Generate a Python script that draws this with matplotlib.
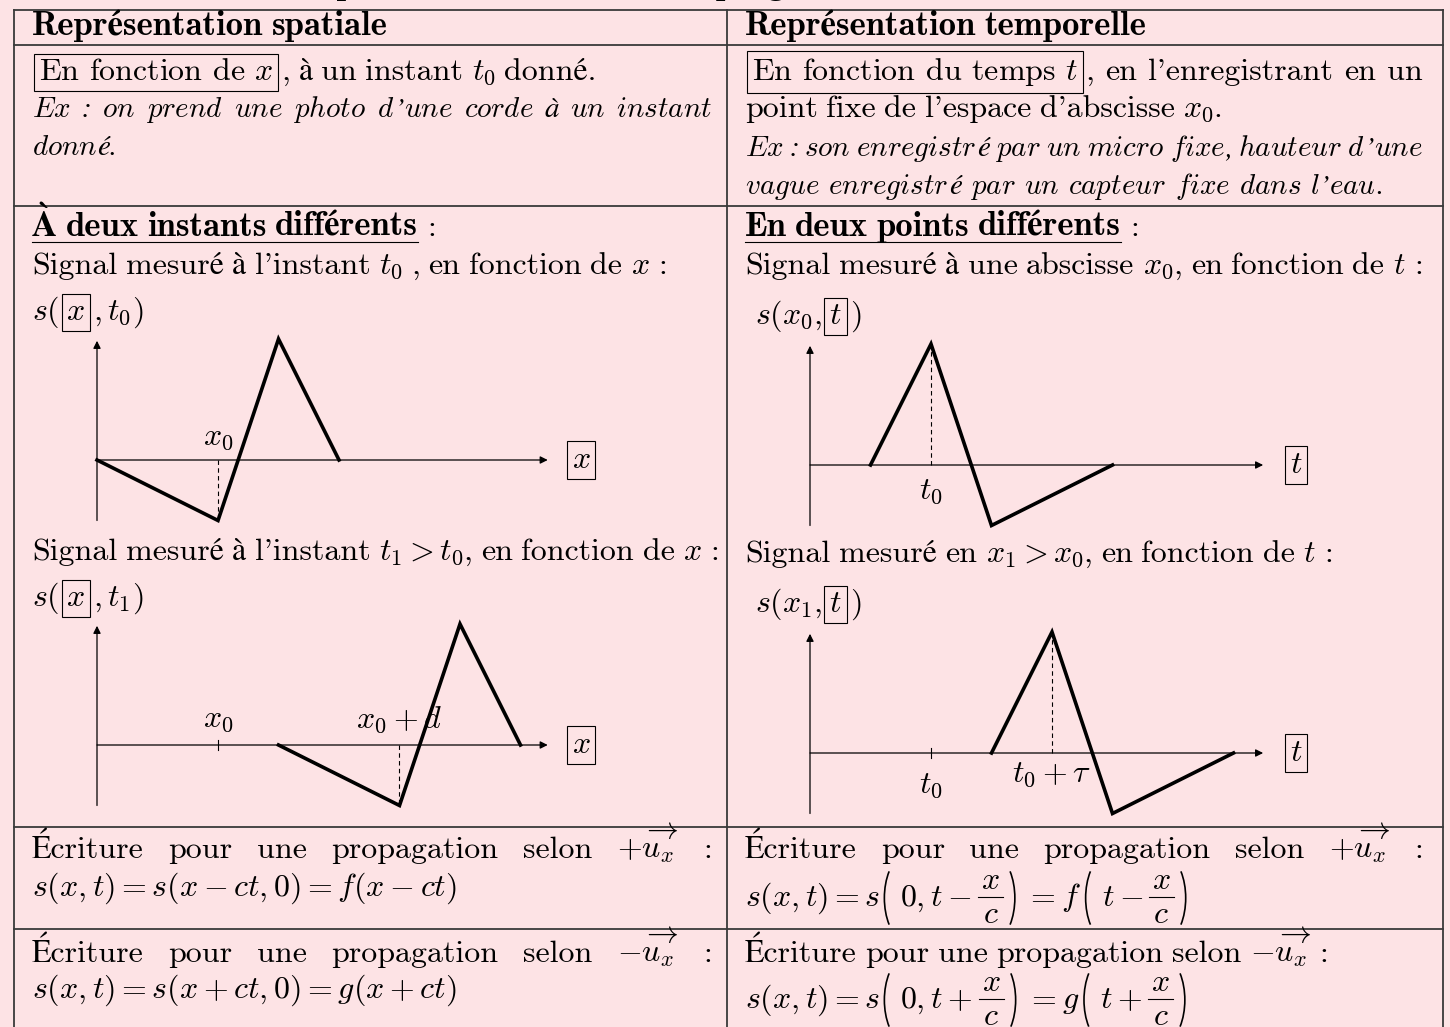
import re
from math import sin, cos, radians
import matplotlib
matplotlib.use('Agg')
import matplotlib.pyplot as plt
from matplotlib.patches import Arc

W, H = 1450, 1027
BG = '#fde3e5'
FS = 23
FSB = 25
FSI = 21

plt.rcParams['mathtext.fontset'] = 'cm'
plt.rcParams['font.family'] = ['cmr10', 'STIXGeneral']
plt.rcParams['axes.unicode_minus'] = False

# pulse seen at fixed time (function of x) and at fixed point (function of t)
x_pulse = [0, 2, 3, 4]
s_space = [0, -1, 2, 0]
d_shift = 3
t_pulse = [1, 2, 3, 5]
s_time = [0, 2, -1, 0]
tau_shift = 2
tick_pos = 2

ROMAN = dict(family=['cmr10', 'STIXGeneral'], fontsize=FS)
BOLD = dict(family=['cmb10', 'STIXGeneral'], weight='bold', fontsize=FSB)
BOLD_STIX = dict(family=['STIXGeneral'], weight='bold', fontsize=FSB)
ITAL = dict(family=['STIXGeneral'], style='italic', fontsize=FSI)
ITAL_M = dict(family=['cmr10', 'STIXGeneral'], fontsize=FSI)
BOX = dict(boxstyle='square,pad=0.15', fc='none', ec='black', lw=0.8)
PAD = 0.15 * FS * 100 / 72
SP = 8.5

fig = plt.figure(figsize=(W / 100, H / 100), dpi=100, facecolor=BG)
bg = fig.add_axes([0, 0, 1, 1])
bg.set_xlim(0, W)
bg.set_ylim(H, 0)
bg.axis('off')
renderer = fig.canvas.get_renderer()


def width(t):
    return t.get_window_extent(renderer).width


def split_words(s):
    words, cur, inmath = [], '', False
    for ch in s:
        if ch == '$':
            inmath = not inmath
        if ch == ' ' and not inmath:
            if cur:
                words.append(cur)
            cur = ''
        else:
            cur += ch
    if cur:
        words.append(cur)
    return words


def pieces_of(word, style):
    out = []
    for part in re.split(r'(\$[^$]*\$)', word):
        if not part:
            continue
        if part.startswith('$'):
            out.append((part, ITAL_M if style == 'i' else ROMAN))
        elif style == 'i':
            for r in re.findall(r'[A-Za-z]+|[^A-Za-z]+', part):
                if r[0].isascii() and r[0].isalpha():
                    out.append((r'$\mathit{%s}$' % r, ITAL_M))
                else:
                    out.append((r, ITAL))
        elif style == 'b':
            for r in re.findall(r'À|[^À]+', part):
                out.append((r, BOLD_STIX if r == 'À' else BOLD))
        else:
            out.append((part, ROMAN))
    return out


def build_word(w, y, style):
    items = []
    if isinstance(w, tuple):
        pre, inner, suf = w
        for s, kw in pieces_of(pre, style):
            t = bg.text(0, y, s, va='baseline', **kw)
            items.append([t, 0, width(t), 0])
        t = bg.text(0, y, inner, va='baseline', bbox=BOX, **ROMAN)
        items.append([t, PAD + 2, width(t), PAD + 3])
        w = suf
    for s, kw in pieces_of(w, style):
        t = bg.text(0, y, s, va='baseline', **kw)
        items.append([t, 0, width(t), 0])
    return items


def line(x0, y, words, style='r', x1=None):
    if isinstance(words, str):
        words = split_words(words)
    built = [build_word(w, y, style) for w in words]
    totals = [sum(a + b + c for _, a, b, c in it) for it in built]
    gap = SP
    if x1 is not None and len(built) > 1:
        gap = (x1 - x0 - sum(totals)) / (len(built) - 1)
    x = x0
    for it in built:
        for t, a, b, c in it:
            x += a
            t.set_x(x)
            x += b + c
        x += gap
    return x - gap


def underlined(x, y, s):
    end = line(x, y, s, 'b')
    bg.plot([x, end], [y + 6, y + 6], color='black', lw=0.8)
    bg.text(end + 10, y, ':', va='baseline', **ROMAN)


def paren(x, yc, left, h=72, w=10, phi=55):
    b = h / 2 / sin(radians(phi))
    a = w / (1 - cos(radians(phi)))
    if left:
        arc = Arc((x + a, yc), 2 * a, 2 * b, theta1=180 - phi, theta2=180 + phi)
    else:
        arc = Arc((x + w - a, yc), 2 * a, 2 * b, theta1=-phi, theta2=phi)
    arc.set_color('black')
    arc.set_linewidth(1.2)
    bg.add_patch(arc)
    return x + w


def formula(x, y, parts):
    for p in parts:
        if p[0] == 'm':
            t = bg.text(x, y, p[1], va='baseline', **ROMAN)
            x += width(t) + p[2]
        elif p[0] in '()':
            x = paren(x, y - 8, p[0] == '(') + p[1]
        else:
            tn = bg.text(0, y - 17, p[1], va='baseline', ha='center', **ROMAN)
            td = bg.text(0, y + 17, p[2], va='baseline', ha='center', **ROMAN)
            fw = max(width(tn), width(td)) + 6
            tn.set_x(x + fw / 2)
            td.set_x(x + fw / 2)
            bg.plot([x, x + fw], [y - 9, y - 9], color='black', lw=0.8)
            x += fw + 2


# cut title
bg.text(590, -6, "Représentation d'une onde progressive", ha='center',
        va='baseline', **BOLD)

# table frame
LINE = dict(color='#3a3a3a', lw=1.3)
for yy in [10, 45, 206, 827, 929]:
    bg.plot([14, 1443], [yy, yy], **LINE)
for xx in [14, 727, 1443]:
    bg.plot([xx, xx], [10, H], **LINE)

# header
line(32, 35, 'Représentation spatiale', 'b')
line(745, 35, 'Représentation temporelle', 'b')

# row 1
line(32, 80, [('', 'En fonction de $x$', ','), 'à', 'un', 'instant', '$t_0$', 'donné.'])
line(32, 117, "Ex : on prend une photo d’une corde à un instant", 'i', 712)
line(32, 155, 'donné.', 'i')

line(745, 80, [('', 'En fonction du temps $t$', ','), 'en', "l'enregistrant", 'en', 'un'],
     x1=1423)
line(745, 117, "point fixe de l'espace d'abscisse $x_0$.")
line(745, 156, "Ex : son enregistré par un micro fixe, hauteur d’une", 'i', 1423)
line(745, 194, "vague enregistré par un capteur fixe dans l’eau.", 'i')

# row 2
underlined(32, 236, 'À deux instants différents')
line(32, 274, "Signal mesuré à l'instant $t_0$ , en fonction de $x$ :")
line(32, 320, [('$s($', '$x$', '$,t_0)$')])
line(32, 560, "Signal mesuré à l'instant $t_1 > t_0$, en fonction de $x$ :")
line(32, 606, [('$s($', '$x$', '$,t_1)$')])

underlined(745, 236, 'En deux points différents')
line(745, 274, "Signal mesuré à une abscisse $x_0$, en fonction de $t$ :")
line(755, 324, [('$s(x_0,$', '$t$', '$)$')])
line(745, 562, "Signal mesuré en $x_1 > x_0$, en fonction de $t$ :")
line(755, 612, [('$s(x_1,$', '$t$', '$)$')])

# rows 3 and 4
head_plus = r'Écriture pour une propagation selon $+\overrightarrow{u_x}$ :'
head_minus = r'Écriture pour une propagation selon $-\overrightarrow{u_x}$ :'
line(32, 858, head_plus, x1=712)
bg.text(32, 896, r'$s(x,t) = s(x - ct, 0) = f(x - ct)$', va='baseline', **ROMAN)
line(745, 858, head_plus, x1=1423)
formula(745, 906, [('m', r'$s(x,t) = s$', 4), ('(', 6), ('m', r'$0, t -$', 6),
                   ('f', '$x$', '$c$'), (')', 10), ('m', r'$= f$', 5), ('(', 6),
                   ('m', r'$t -$', 6), ('f', '$x$', '$c$'), (')', 0)])
line(32, 962, head_minus, x1=712)
bg.text(32, 998, r'$s(x,t) = s(x + ct, 0) = g(x + ct)$', va='baseline', **ROMAN)
line(745, 962, head_minus)
formula(745, 1008, [('m', r'$s(x,t) = s$', 4), ('(', 6), ('m', r'$0, t +$', 6),
                    ('f', '$x$', '$c$'), (')', 10), ('m', r'$= g$', 5), ('(', 6),
                    ('m', r'$t +$', 6), ('f', '$x$', '$c$'), (')', 0)])

# graphs
U = 60.5
XL, XH, YL, YH = -0.6, 8.6, -1.6, 2.6


def graph(ox, oy, xs, ys, xend, label):
    ax = fig.add_axes([(ox + XL * U) / W, (H - (oy - YL * U)) / H,
                       (XH - XL) * U / W, (YH - YL) * U / H])
    ax.set_xlim(XL, XH)
    ax.set_ylim(YL, YH)
    ax.axis('off')
    arrow = dict(arrowstyle='-|>', lw=0.9, color='black', mutation_scale=11,
                 shrinkA=0, shrinkB=0)
    ax.annotate('', xy=(xend, 0), xytext=(0, 0), arrowprops=arrow)
    ax.annotate('', xy=(0, 1.97), xytext=(0, -1), arrowprops=arrow)
    ax.plot(xs, ys, color='black', lw=2.6, solid_joinstyle='miter')
    ax.text(xend + 0.55, 0, label, ha='center', va='center', bbox=BOX, **ROMAN)
    return ax


DASH = dict(color='black', lw=0.8, ls=(0, (4, 3)))

ax1 = graph(97, 460, x_pulse, s_space, 7.45, '$x$')
i = s_space.index(min(s_space))
ax1.plot([x_pulse[i]] * 2, [0, s_space[i]], **DASH)
ax1.text(x_pulse[i], 0.26, '$x_0$', ha='center', va='baseline', **ROMAN)

xs2 = [v + d_shift for v in x_pulse]
ax2 = graph(97, 745, xs2, s_space, 7.45, '$x$')
ax2.plot([xs2[i]] * 2, [0, s_space[i]], **DASH)
ax2.plot([tick_pos] * 2, [-0.08, 0.08], color='black', lw=0.8)
ax2.text(tick_pos, 0.3, '$x_0$', ha='center', va='baseline', **ROMAN)
ax2.text(xs2[i], 0.28, '$x_0 + d$', ha='center', va='baseline', **ROMAN)

j = s_time.index(max(s_time))
ax3 = graph(810, 465, t_pulse, s_time, 7.49, '$t$')
ax3.plot([t_pulse[j]] * 2, [0, s_time[j]], **DASH)
ax3.text(t_pulse[j], -0.2, '$t_0$', ha='center', va='top', **ROMAN)

ts2 = [v + tau_shift for v in t_pulse]
ax4 = graph(810, 753, ts2, s_time, 7.49, '$t$')
ax4.plot([ts2[j]] * 2, [0, s_time[j]], **DASH)
ax4.plot([tick_pos] * 2, [-0.08, 0.08], color='black', lw=0.8)
ax4.text(tick_pos, -0.31, '$t_0$', ha='center', va='top', **ROMAN)
ax4.text(ts2[j], -0.12, r'$t_0 + \tau$', ha='center', va='top', **ROMAN)

fig.savefig('out.png', dpi=100, facecolor=BG)
